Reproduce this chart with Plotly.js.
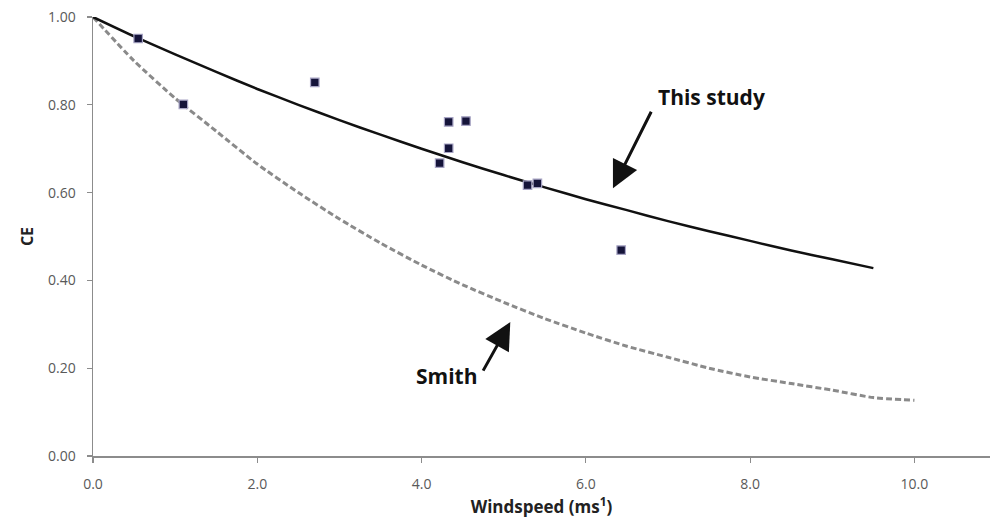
<!DOCTYPE html>
<html>
<head>
<meta charset="utf-8">
<script src="https://cdn.plot.ly/plotly-3.0.1.min.js"></script>
<style>html,body{margin:0;padding:0;background:#fff;}#chart{width:990px;height:524px;}</style>
</head>
<body>
<div id="chart"></div>
<script>
// Observed data points
var obsWind = [0.55, 1.1, 2.7, 4.33, 4.54, 4.33, 4.22, 5.29, 5.41, 6.43];
var obsCE   = [0.951, 0.801, 0.851, 0.761, 0.763, 0.701, 0.667, 0.617, 0.621, 0.469];

// "This study" curve
var studyWind = [0, 0.5, 1.0, 1.5, 2.0, 2.5, 3.0, 3.5, 4.0, 4.5, 5.0, 5.5, 6.0, 6.5, 7.0, 7.5, 8.0, 8.5, 9.0, 9.5];
var studyCE   = [1.00, 0.956, 0.915, 0.875, 0.836, 0.800, 0.765, 0.732, 0.700, 0.669, 0.640, 0.612, 0.585, 0.560, 0.535, 0.512, 0.490, 0.468, 0.448, 0.428];

// "Smith" curve
var smithWind = [0, 0.5, 1.0, 1.5, 2.0, 2.5, 3.0, 3.5, 4.0, 4.5, 5.0, 5.5, 6.0, 6.5, 7.0, 7.5, 8.0, 8.5, 9.0, 9.5, 10.0];
var smithCE   = [1.00, 0.900, 0.815, 0.740, 0.665, 0.600, 0.540, 0.485, 0.435, 0.390, 0.350, 0.313, 0.280, 0.250, 0.225, 0.200, 0.180, 0.165, 0.150, 0.133, 0.127];

var xTicks = [0, 2, 4, 6, 8, 10];
var xTickText = ['0.0', '2.0', '4.0', '6.0', '8.0', '10.0'];
var yTicks = [0, 0.2, 0.4, 0.6, 0.8, 1.0];
var yTickText = ['0.00', '0.20', '0.40', '0.60', '0.80', '1.00'];

var traces = [
  {x: smithWind, y: smithCE, mode: 'lines', type: 'scatter',
   line: {color: '#8a8a8a', width: 3, dash: '6px,3px', shape: 'spline', smoothing: 0.6}, hoverinfo: 'skip'},
  {x: studyWind, y: studyCE, mode: 'lines', type: 'scatter',
   line: {color: '#111111', width: 2.5, shape: 'spline', smoothing: 0.6}, hoverinfo: 'skip'},
  {x: obsWind, y: obsCE, mode: 'markers', type: 'scatter',
   marker: {symbol: 'square', size: 8.5, color: '#15143a', line: {color: '#a7a4c4', width: 1.2}}}
];

var afont = {family: 'Open Sans, Noto Sans, sans-serif', size: 21, color: '#111'};
var layout = {
  width: 990, height: 524,
  margin: {l: 93, r: 0, t: 17, b: 68},
  paper_bgcolor: '#fff', plot_bgcolor: '#fff',
  showlegend: false,
  font: {family: 'Open Sans, Noto Sans, sans-serif', color: '#595959', size: 13},
  xaxis: {
    range: [0, 10.92], tickvals: xTicks, ticktext: xTickText,
    showgrid: false, zeroline: false, showline: true, linecolor: '#8c8c8c', linewidth: 1.5,
    ticks: 'outside', ticklen: 5, tickcolor: '#8c8c8c', tickwidth: 1.2,
    ticklabelstandoff: 10,
    tickfont: {size: 14, color: '#595959'},
    title: {text: '<b>Windspeed (ms<sup>1</sup>)</b>', font: {size: 17, color: '#222'}, standoff: 6}
  },
  yaxis: {
    range: [0, 1.0], tickvals: yTicks, ticktext: yTickText,
    showgrid: false, zeroline: false, showline: true, linecolor: '#8c8c8c', linewidth: 1.5,
    ticks: 'outside', ticklen: 5, tickcolor: '#8c8c8c', tickwidth: 1.2,
    ticklabelstandoff: 8,
    tickfont: {size: 14, color: '#595959'},
    title: {text: '<b>CE</b>', font: {size: 16, color: '#222'}, standoff: 10}
  },
  annotations: [
    {x: 7.53, y: 0.817, xref: 'x', yref: 'y', text: '<b>This study</b>', showarrow: false, font: afont},
    {x: 4.31, y: 0.182, xref: 'x', yref: 'y', text: '<b>Smith</b>', showarrow: false, font: afont},
    {x: 6.33, y: 0.61, xref: 'x', yref: 'y', text: '', showarrow: true, ax: 39, ay: -78,
     arrowhead: 2, arrowsize: 1.8, arrowwidth: 3, arrowcolor: '#111'},
    {x: 5.08, y: 0.305, xref: 'x', yref: 'y', text: '', showarrow: true, ax: -28, ay: 50,
     arrowhead: 2, arrowsize: 1.8, arrowwidth: 3, arrowcolor: '#111'}
  ]
};

Plotly.newPlot('chart', traces, layout, {displayModeBar: false, staticPlot: true});
</script>
</body>
</html>
